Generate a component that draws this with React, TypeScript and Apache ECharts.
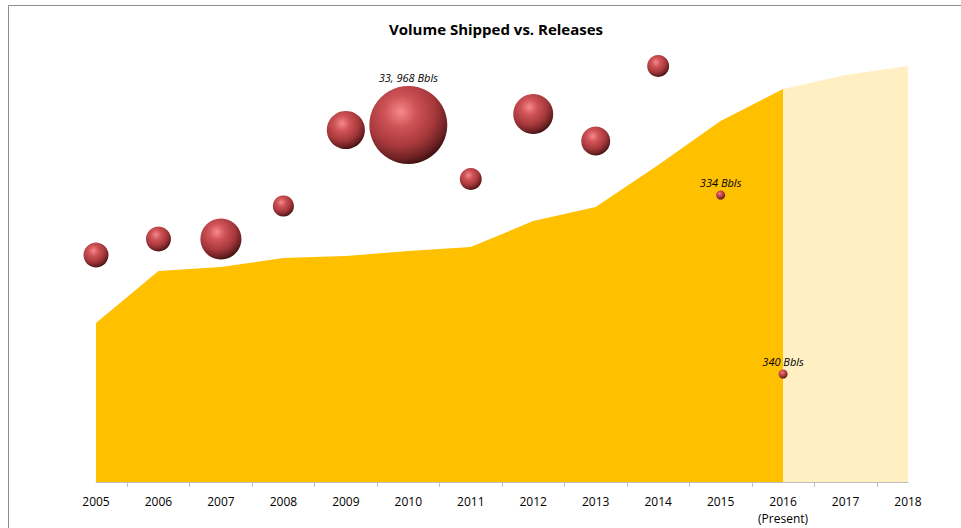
import React, { useEffect, useRef } from "react";
import * as echarts from "echarts";

const years = [2005, 2006, 2007, 2008, 2009, 2010, 2011, 2012, 2013, 2014, 2015, 2016, 2017, 2018];
const shippedVolume = [159, 211, 215, 224, 226, 231, 235, 261, 275, 317, 361, 393, 407, 416];
const presentYear = 2016;

const releaseYears = [2005, 2006, 2007, 2008, 2009, 2010, 2011, 2012, 2013, 2014, 2015, 2016];
const releaseHeight = [227, 243, 243, 276, 352, 357, 303, 368, 341, 416, 287, 108];
const releaseVolume = [3500, 3500, 9400, 2500, 8100, 33968, 2700, 8900, 4700, 2700, 334, 340];
const releaseLabels = ["", "", "", "", "", "33, 968 Bbls", "", "", "", "", "334 Bbls", "340 Bbls"];

const FONT = "Open Sans";

export default function App() {
  const ref = useRef<HTMLDivElement>(null);

  useEffect(() => {
    if (!ref.current) return;
    const chart = echarts.init(ref.current, null, { renderer: "svg" });
    const maxVol = Math.max(...releaseVolume);

    const pastData = years
      .map((y, i) => [y, shippedVolume[i]])
      .filter((d) => d[0] <= presentYear);
    const futureData = years
      .map((y, i) => [y, shippedVolume[i]])
      .filter((d) => d[0] >= presentYear);
    const bubbleData = releaseYears.map((y, i) => ({
      value: [y, releaseHeight[i], releaseVolume[i]],
      label: releaseLabels[i] ? { show: true, formatter: releaseLabels[i] } : { show: false },
    }));

    const sphere = new echarts.graphic.RadialGradient(0.4, 0.33, 0.72, [
      { offset: 0, color: "#F7898C" },
      { offset: 0.28, color: "#CF5357" },
      { offset: 0.62, color: "#A6383B" },
      { offset: 0.85, color: "#6A2022" },
      { offset: 1, color: "#2E0A0B" },
    ]);

    chart.setOption({
      animation: false,
      backgroundColor: "#ffffff",
      title: {
        text: "Volume Shipped vs. Releases",
        left: 491,
        textAlign: "center",
        top: 16,
        textStyle: { fontFamily: FONT, fontSize: 15, fontWeight: "bold", color: "#000" },
      },
      graphic: [
        {
          type: "rect",
          shape: { x: 8.5, y: 5.5, width: 1200, height: 1200 },
          style: { fill: "none", stroke: "#8c8c8c", lineWidth: 1 },
          silent: true,
        },
      ],
      grid: { left: 96, right: 53, top: 32, bottom: 46 },
      xAxis: {
        type: "value",
        min: 2005,
        max: 2018,
        interval: 1,
        axisLine: { show: true, lineStyle: { color: "#bfbfbf", width: 1 } },
        axisTick: { show: false },
        minorTick: { show: true, splitNumber: 2, length: 5, lineStyle: { color: "#bfbfbf", width: 1 } },
        splitLine: { show: false },
        minorSplitLine: { show: false },
        axisLabel: {
          margin: 11,
          fontFamily: FONT,
          fontSize: 12,
          color: "#000",
          lineHeight: 17,
          formatter: (v: number) => (v === presentYear ? `${v}\n(Present)` : `${v}`),
        },
      },
      yAxis: { type: "value", min: 0, max: 450, show: false },
      series: [
        {
          type: "line",
          data: pastData,
          symbol: "none",
          lineStyle: { width: 0 },
          areaStyle: { color: "#FFC000", opacity: 1 },
          z: 1,
        },
        {
          type: "line",
          data: futureData,
          symbol: "none",
          lineStyle: { width: 0 },
          areaStyle: { color: "#FFEFC2", opacity: 1 },
          z: 1,
        },
        {
          type: "scatter",
          data: bubbleData,
          symbolSize: (val: number[]) => Math.max(9, 78 * Math.sqrt(val[2] / maxVol)),
          itemStyle: { color: sphere, opacity: 1 },
          label: {
            position: "top",
            distance: 3,
            fontFamily: FONT,
            fontStyle: "italic",
            fontSize: 11,
            color: "#000",
          },
          z: 3,
        },
      ],
    });
    return () => chart.dispose();
  }, []);

  return (
    <div
      ref={ref}
      style={{ position: "fixed", left: 0, top: 0, width: 961, height: 528 }}
    />
  );
}
